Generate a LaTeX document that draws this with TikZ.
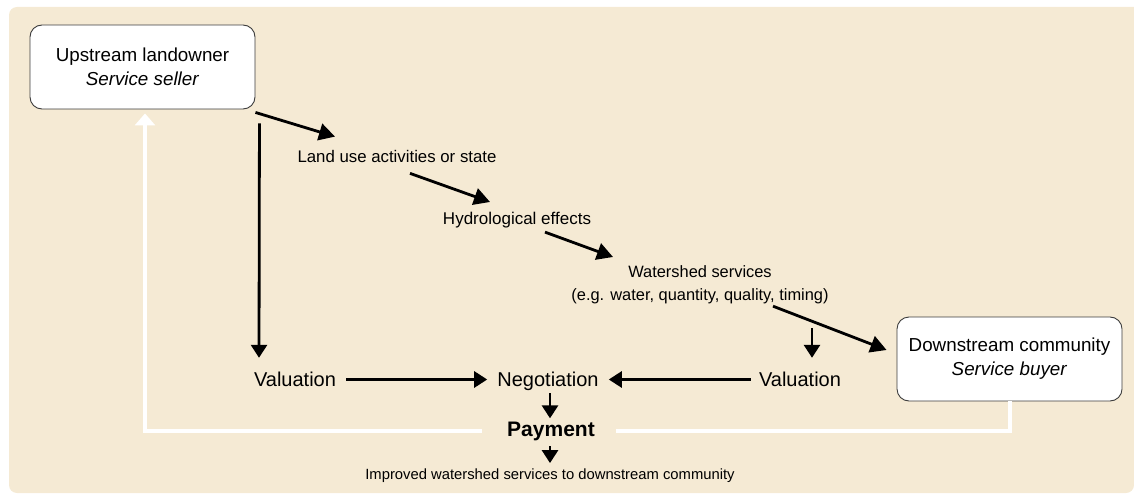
\documentclass[tikz,border=0pt]{standalone}
\usepackage{fontspec}
\setmainfont{Liberation Sans}
\usepackage{tikz}
\usetikzlibrary{positioning, arrows.meta, calc}
\definecolor{pesbeige}{RGB}{245,234,212}
\definecolor{boxgray}{RGB}{60,60,60}
\tikzstyle{party}=[
  rectangle,
  rounded corners=12pt,
  minimum width=225pt,
  minimum height=84pt,
  inner sep=0pt,
  fill=white,
  draw=boxgray,
  line width=0.9pt,
  align=center,
  font={\fontsize{18.8}{24}\selectfont}
]
\tikzstyle{effect}=[inner sep=0pt, font={\fontsize{16.8}{23}\selectfont}]
\tikzstyle{deal}=[inner sep=0pt, text height=15pt, text depth=2pt, font={\fontsize{20}{24}\selectfont}]
\tikzstyle{flow}=[line width=2.8pt, -{Triangle[length=16pt,width=17pt]}]
\tikzstyle{drop}=[line width=2.8pt, -{Triangle[length=13pt,width=16pt]}]
\tikzstyle{cash}=[white, line width=4pt]

\begin{document}
\begin{tikzpicture}[x=1pt, y=-1pt]

\useasboundingbox (0,0) rectangle (1134,494);

%% background panel
\fill[pesbeige] (1134,493) -- (1134,7) [rounded corners=8pt] -- (9,7) -- (9,493) -- (1134,493) [sharp corners] -- cycle;

%% the two parties
\node[party] (up) at (142.5,67) {Upstream landowner\\\textit{Service seller}};
\node[party] (down) at (1009.5,359) {Downstream community\\\textit{Service buyer}};

%% chain of effects
\node[effect, anchor=base] (landuse) at (397,163) {Land use activities or state};
\node[effect, anchor=base, font={\fontsize{17}{20}\selectfont}] (hydro) at (517,225) {Hydrological effects};
\node[effect, anchor=north, align=center, font={\fontsize{16.4}{23}\selectfont}] (wsserv) at (700,265) {Watershed services\\(e.g. water, quantity, quality, timing)};

%% deal
\node[deal] (valL) at (295,379.5) {Valuation};
\node[deal] (nego) at (548,379.5) {Negotiation};
\node[deal] (valR) at (800,379.5) {Valuation};
\node[inner sep=0pt, anchor=base, font={\bfseries\fontsize{21}{24}\selectfont}] (pay) at (551,436) {Payment};
\node[inner sep=0pt, anchor=base, font={\fontsize{14.8}{18}\selectfont}] (improved) at (550,479) {Improved watershed services to downstream community};

%% arrows
\draw[flow] ([shift={(0,3)}]up.south east) -- ([shift={(-62,-14)}]landuse.north);
\draw[flow] ([shift={(13,10)}]landuse.south) -- ([shift={(-27,-10.5)}]hydro.north);
\draw[flow] ([shift={(28,3.4)}]hydro.south) -- ([shift={(-87,-8)}]wsserv.north);
\draw[flow] ([shift={(73,2.5)}]wsserv.south) -- ([shift={(-10,-9)}]down.west);

\draw[drop] ([shift={(112,24.5)}]wsserv.south) -- ([shift={(12,-13)}]valR.north);
\draw[drop] ([shift={(4,14)}]up.south east) -- ([shift={(-36,-13)}]valL.north);

\draw[drop] ([xshift=10pt]valL.east) -- ([xshift=-10pt]nego.west);
\draw[drop] ([xshift=-8pt]valR.west) -- ([xshift=10pt]nego.east);

\draw[drop] ([shift={(2,5)}]nego.south) -- ([shift={(-1,-3)}]pay.north);
\draw[drop] ([shift={(-1,5.6)}]pay.south) -- ([shift={(0,-5)}]improved.north);

%% payment loop
\draw[cash] (down.south) |- ([xshift=21pt]pay.east);
\draw[cash, -{Triangle[length=12pt,width=20pt]}] ([xshift=-25pt]pay.west) -| ([shift={(2.5,4)}]up.south);

\end{tikzpicture}
\end{document}
